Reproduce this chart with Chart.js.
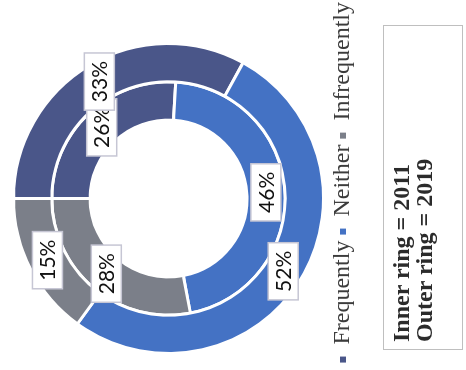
<!DOCTYPE html>
<html>
<head>
<meta charset="utf-8">
<script src="https://cdn.jsdelivr.net/npm/chart.js@4.4.1/dist/chart.umd.min.js"></script>
<style>
  html, body { margin: 0; padding: 0; background: #fff; overflow: hidden; }
  body { width: 466px; height: 370px; position: relative; }
  /* the whole figure is laid out upright and then turned a quarter left */
  #figure {
    position: absolute; left: 0; top: 0;
    width: 370px; height: 466px;
    transform-origin: 0 0;
    transform: translateY(370px) rotate(-90deg);
  }
  #ring-chart { position: absolute; left: -40px; top: 0; }
  .note {
    position: absolute; left: 20px; top: 383px;
    width: 325px; height: 80px;
    box-sizing: border-box;
    border: 1.5px solid #bfbfbf;
    padding: 6px 7px;
    font: bold 24px "Liberation Serif", serif;
    line-height: 23px;
    color: #2b2b2b;
  }
</style>
</head>
<body>
<div id="figure">
  <canvas id="ring-chart" width="420" height="466"></canvas>
  <div class="note">Inner ring = 2011<br>Outer ring = 2019</div>
</div>
<script>
const answers = ['Frequently', 'Neither', 'Infrequently'];
const share2019 = [33, 52, 15];   // outer ring
const share2011 = [26, 46, 28];   // inner ring
const ringColors = ['#4a5689', '#4472c4', '#7b7f89'];

// boxed percentage labels at the middle of every slice
const sliceLabels = {
  id: 'sliceLabels',
  afterDatasetsDraw(chart) {
    const ctx = chart.ctx;
    ctx.save();
    ctx.font = '21px Lato, sans-serif';
    ctx.textAlign = 'center';
    ctx.textBaseline = 'middle';
    // inner ring first so the outer boxes sit on top
    [1, 0].forEach(di => {
      const meta = chart.getDatasetMeta(di);
      const values = chart.data.datasets[di].data;
      meta.data.forEach((arc, i) => {
        const p = arc.getProps(['x', 'y', 'startAngle', 'endAngle', 'innerRadius', 'outerRadius'], true);
        const a = (p.startAngle + p.endAngle) / 2;
        const r = (p.innerRadius + p.outerRadius) / 2;
        const x = p.x + Math.cos(a) * r;
        const y = p.y + Math.sin(a) * r;
        const text = values[i] + '%';
        const w = ctx.measureText(text).width + 16;
        const h = 30;
        ctx.fillStyle = '#fff';
        ctx.fillRect(x - w / 2, y - h / 2, w, h);
        ctx.lineWidth = 1.5;
        ctx.strokeStyle = '#c6c6d4';
        ctx.strokeRect(x - w / 2, y - h / 2, w, h);
        ctx.fillStyle = '#111';
        ctx.fillText(text, x, y + 1);
      });
    });
    ctx.restore();
  }
};

const baseLabels = Chart.overrides.doughnut.plugins.legend.labels.generateLabels;

new Chart(document.getElementById('ring-chart'), {
  type: 'doughnut',
  data: {
    labels: answers,
    datasets: [
      { label: '2019', data: share2019, backgroundColor: ringColors },
      { label: '2011', data: share2011, backgroundColor: ringColors }
    ]
  },
  options: {
    responsive: false,
    devicePixelRatio: 1,
    animation: false,
    cutout: '50.6%',
    borderColor: '#fff',
    borderWidth: 3,
    hoverBorderWidth: 3,
    layout: { padding: { left: 9, right: 6, top: 12, bottom: 101 } },
    plugins: {
      tooltip: { enabled: false },
      legend: {
        position: 'bottom',
        align: 'end',
        labels: {
          boxWidth: 6,
          boxHeight: 6,
          padding: 6,
          color: '#3c3c3c',
          font: { family: '"Liberation Serif", serif', size: 24 },
          generateLabels: chart => baseLabels(chart).map(l => ({ ...l, lineWidth: 0 }))
        }
      }
    }
  },
  plugins: [sliceLabels]
});
</script>
</body>
</html>
